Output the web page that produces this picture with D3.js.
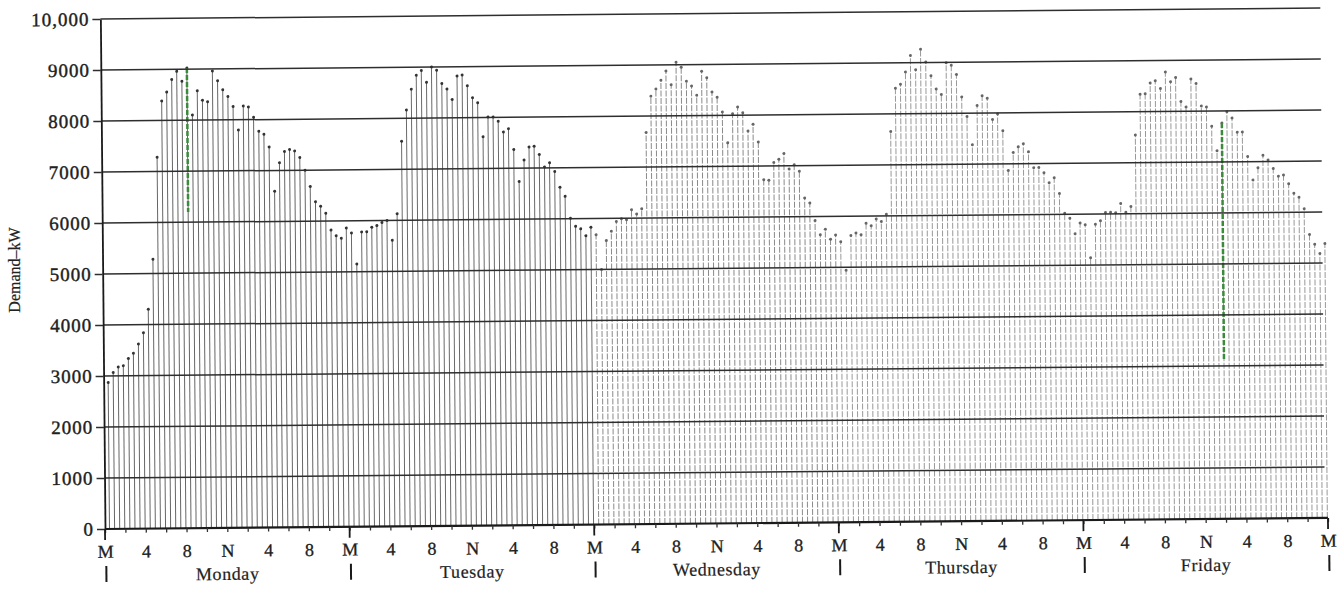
<!DOCTYPE html>
<html lang="en">
<head>
	<meta charset="UTF-8">
	<title>Demand - kW</title>
	<script type="text/javascript" src="https://cdn.jsdelivr.net/npm/d3@7/dist/d3.min.js"></script>
	<style>
		body { margin: 0; background: #fff; }
		text { font-family: "Liberation Serif", "DejaVu Serif", serif; fill: #222; }
	</style>
</head>
<body>
	<div class="chart"></div>
	<script type="text/javascript">
		// half-hourly demand readings, kW (48 per day)
		var monday = [2870,3065,3176,3200,3340,3440,3620,3840,4300,5280,7280,8380,8555,8800,8960,8765,9025,8100,8575,8390,
			8360,8960,8770,8590,8460,8260,7800,8270,8250,8045,7770,7710,7460,6590,7150,7370,7410,7380,7250,7000,
			6680,6380,6290,6150,5820,5710,5660,5860];
		var tuesday = [5760,5150,5780,5780,5870,5900,5960,6000,5610,6130,7550,8160,8570,8840,8935,8700,9000,8935,8675,8565,
			8360,8820,8840,8625,8390,8290,7625,8010,8010,7925,7715,7775,7370,6740,7160,7415,7430,7265,7020,7100,
			6930,6620,6440,6010,5850,5800,5665,5830];
		var wednesday = [5680,5000,5565,5750,5940,5990,5970,6165,6080,6185,7680,8390,8530,8700,8880,8610,9050,8950,8675,8580,
			8400,8870,8740,8460,8355,8065,7460,8030,8160,8050,7690,7820,7470,6730,6720,7065,7130,7240,6935,7020,
			6890,6365,6265,5920,5640,5750,5550,5635];
		var thursday = [5500,4940,5620,5670,5635,5860,5810,5940,5890,6030,7655,8500,8580,8820,9140,8860,9260,9010,8740,8480,
			8370,8990,8940,8760,8320,7935,7380,8150,8340,8290,7870,7980,7650,6870,7220,7330,7390,7230,6920,6920,
			6820,6620,6720,6410,6020,5920,5615,5825];
		var friday = [5790,5145,5800,5865,6030,6030,6020,6200,6030,6140,7540,8340,8350,8560,8600,8450,8770,8580,8660,8190,
			8080,8630,8540,8100,8080,7700,7220,7760,7980,7860,7580,7580,7100,6640,6880,7120,7030,6860,6710,6730,
			6560,6370,6290,6065,5560,5370,5185,5380];

		var days = ['Monday','Tuesday','Wednesday','Thursday','Friday'];
		var yTicks = [0,1000,2000,3000,4000,5000,6000,7000,8000,9000,10000];
		var yTickLabels = ['0','1000','2000','3000','4000','5000','6000','7000','8000','9000','10,000'];
		var hourLabels = ['M','4','8','N','4','8'];
		// green pen marks on the scan: [reading index, lower end in kW]
		var greenMarks = [[16,6200],[219,3100]];

		var allValues = [].concat(monday,tuesday,wednesday,thursday,friday);
		var dayStroke = ['#666','#6a6a6a','#8a8a8a','#999','#999'];

		var W = 1343, H = 589;
		var plotL = 105, plotR = 1328, plotT = 19, plotB = 529;

		var x = d3.scaleLinear().domain([0,120]).range([plotL,plotR]);
		var y = d3.scaleLinear().domain([0,10000]).range([plotB,plotT]);

		var svg = d3.select('.chart').append('svg')
			.attr('width',W).attr('height',H);

		// the scan is slightly tilted
		var g = svg.append('g').attr('transform','rotate(-0.52 ' + plotL + ' ' + plotB + ')');

		// stems
		var stems = g.append('g');
		stems.selectAll('line').data(allValues).enter().append('line')
			.attr('x1',function(d,i){ return x((i+1)*0.5) - 0.6; })
			.attr('x2',function(d,i){ return x((i+1)*0.5) - 0.6; })
			.attr('y1',y(0))
			.attr('y2',function(d){ return y(d); })
			.attr('stroke',function(d,i){ return dayStroke[Math.floor(i/48)]; })
			.attr('stroke-width',1)
			.attr('stroke-dasharray',function(d,i){ return i >= 96 ? '6,1.5' : null; });

		stems.selectAll('circle').data(allValues).enter().append('circle')
			.attr('cx',function(d,i){ return x((i+1)*0.5) - 0.6; })
			.attr('cy',function(d){ return y(d); })
			.attr('r',1.5)
			.attr('fill',function(d,i){ return i >= 96 ? '#666' : '#333'; });

		g.append('g').selectAll('line').data(greenMarks).enter().append('line')
			.attr('x1',function(d){ return x((d[0]+1)*0.5) - 0.6; })
			.attr('x2',function(d){ return x((d[0]+1)*0.5) - 0.6; })
			.attr('y1',function(d){ return y(allValues[d[0]]); })
			.attr('y2',function(d){ return y(d[1]); })
			.attr('stroke','#3c8a3c')
			.attr('stroke-width',2.5)
			.attr('stroke-dasharray','5,2');

		// gridlines
		g.append('g').selectAll('line').data(yTicks).enter().append('line')
			.attr('x1',plotL).attr('x2',function(d){ return d === 0 ? plotR : plotR - 3; })
			.attr('y1',function(d){ return y(d); })
			.attr('y2',function(d){ return y(d); })
			.attr('stroke',function(d){ return d === 0 ? '#1a1a1a' : '#2e2e2e'; })
			.attr('stroke-width',function(d){ return d === 0 ? 2.2 : 1.5; });

		// y axis
		var yAxis = d3.axisLeft(y).tickValues(yTicks).tickSize(8).tickSizeOuter(0).tickPadding(3)
			.tickFormat(function(d,i){ return yTickLabels[i]; });
		var ya = g.append('g').attr('transform','translate(' + plotL + ',0)').call(yAxis);
		ya.select('.domain').attr('stroke','#1a1a1a').attr('stroke-width',1.8);
		ya.selectAll('.tick line').attr('stroke','#2e2e2e').attr('stroke-width',1.5);
		ya.selectAll('text').attr('font-size',19).attr('letter-spacing','1px')
			.attr('font-family','Liberation Serif').attr('fill','#1a1a1a')
			.attr('stroke','#1a1a1a').attr('stroke-width',0.4);

		// x axis: tick every 2 hours, label every 4
		var xAxis = d3.axisBottom(x).tickValues(d3.range(0,121,2)).tickSize(4).tickSizeOuter(0).tickPadding(12)
			.tickFormat(function(d){ return d % 4 === 0 ? hourLabels[(d/4) % 6] : ''; });
		var xa = g.append('g').attr('transform','translate(0,' + plotB + ')').call(xAxis);
		xa.select('.domain').remove();
		xa.selectAll('.tick line').attr('stroke','#333').attr('stroke-width',1.3);
		xa.selectAll('text').attr('font-size',18)
			.attr('font-family','Liberation Serif').attr('fill','#1a1a1a')
			.attr('stroke','#1a1a1a').attr('stroke-width',0.3);

		// midnight ticks and day markers
		var bounds = d3.range(0,121,24);
		g.append('g').selectAll('line').data(bounds).enter().append('line')
			.attr('x1',function(d){ return x(d); }).attr('x2',function(d){ return x(d); })
			.attr('y1',plotB).attr('y2',plotB + 11)
			.attr('stroke','#1a1a1a').attr('stroke-width',1.8);
		g.append('g').selectAll('line').data(bounds).enter().append('line')
			.attr('x1',function(d){ return x(d) + 1; }).attr('x2',function(d){ return x(d) + 1; })
			.attr('y1',566).attr('y2',582)
			.attr('stroke','#1a1a1a').attr('stroke-width',2);

		g.append('g').selectAll('text').data(days).enter().append('text')
			.attr('x',function(d,i){ return x(i*24 + 12); })
			.attr('y',581)
			.attr('text-anchor','middle')
			.attr('font-size',18)
			.attr('letter-spacing','0.6px')
			.attr('stroke','#222').attr('stroke-width',0.2)
			.text(function(d){ return d; });

		svg.append('text')
			.attr('transform','translate(20,270) rotate(-90)')
			.attr('text-anchor','middle')
			.attr('font-size',16)
			.attr('stroke','#222').attr('stroke-width',0.2)
			.text('Demand–kW');
	</script>
</body>
</html>
